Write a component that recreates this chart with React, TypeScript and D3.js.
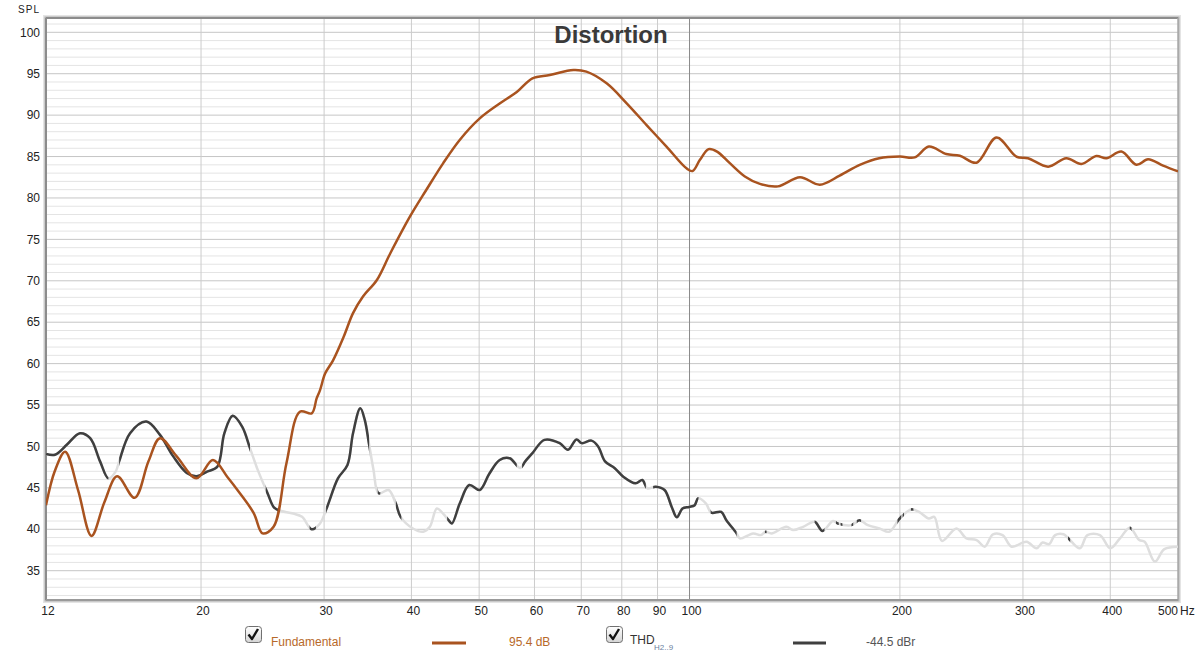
import React from "react";
import * as d3 from "d3";

const fundFreq = [12, 12.35, 12.78, 13.34, 13.94, 14.55, 15.17, 16.07, 16.82, 17.47, 18.46, 19.7, 20.8, 21.8, 22.73, 23.8, 24.5, 25.4, 26.5, 27.7, 28.8, 29.27, 29.6, 30.1, 30.9, 32.0, 33.0, 34.1, 35.7, 37.3, 39.8, 42.0, 44.4, 46.9, 50.1, 53.5, 56.6, 59.6, 63.1, 68.2, 71.2, 76.1, 81.3, 86.8, 92.7, 99.0, 101, 103.5, 106.5, 109.5, 114.2, 120, 126.1, 133.8, 143.9, 153.6, 164, 175.2, 186.8, 200, 210, 220, 233, 243.7, 257.5, 275, 293.6, 305, 326, 346, 363.7, 382, 395, 415, 436, 453, 476, 500];
const fundDb = [42.9, 47.0, 49.37, 44.7, 39.2, 43.3, 46.4, 43.8, 48.2, 51.0, 48.8, 46.15, 48.36, 46.35, 44.35, 41.93, 39.5, 40.3, 47.97, 54.2, 54.0, 55.8, 56.8, 58.8, 60.4, 63.25, 66.1, 68.1, 70.1, 73.3, 77.74, 80.96, 84.18, 87.0, 89.6, 91.4, 92.8, 94.45, 94.84, 95.45, 95.25, 93.84, 91.43, 88.8, 86.2, 83.58, 83.25, 84.6, 85.9, 85.6, 84.2, 82.6, 81.7, 81.4, 82.5, 81.6, 82.7, 84.0, 84.8, 85.0, 84.9, 86.2, 85.3, 85.1, 84.26, 87.3, 84.98, 84.8, 83.78, 84.8, 84.1, 85.07, 84.8, 85.6, 84.0, 84.67, 83.9, 83.2];

const thdFreq = [12, 12.36, 12.85, 13.42, 13.88, 14.34, 14.74, 15.1, 15.27, 15.83, 16.7, 17.47, 18.25, 19.08, 19.7, 20.4, 21.1, 21.6, 22.2, 22.9, 23.5, 24.1, 24.9, 25.4, 25.8, 27.1, 27.9, 28.8, 29.6, 30.3, 31.4, 32.4, 33.0, 33.8, 34.3, 34.8, 35.3, 35.9, 37.1, 38.0, 38.6, 40.2, 41.6, 42.5, 43.5, 44.4, 45.2, 45.7, 46.9, 48.4, 50.1, 51.7, 53.5, 55.3, 57.2, 58.2, 59.6, 62.0, 65.2, 67.0, 68.9, 70.1, 72.4, 74.0, 75.7, 78.1, 80.4, 83.7, 85.6, 87.0, 89.5, 92.1, 94.3, 95.9, 97.7, 99.9, 101.7, 102.9, 105.6, 107.4, 111, 112.9, 116.8, 118, 123.3, 126.5, 128.5, 131, 137.6, 140.6, 145.4, 151, 155, 160.4, 163, 170.5, 175, 180, 187, 193, 199, 202, 207.6, 213, 220, 224, 229.7, 241, 249, 257.5, 264.5, 271.8, 280.5, 289, 303.5, 313.8, 320, 327, 333.5, 343, 348.5, 361.8, 371, 386.6, 400, 413, 426.5, 440, 448, 463.3, 478, 500];
const thdDb = [49.1, 49.0, 50.2, 51.6, 51.0, 48.2, 46.15, 47.0, 48.2, 51.6, 53.0, 51.4, 48.8, 46.8, 46.4, 46.95, 47.55, 51.6, 53.7, 52.4, 49.8, 47.2, 44.35, 42.7, 42.3, 41.9, 41.5, 40.0, 40.7, 42.7, 46.15, 47.76, 51.6, 54.6, 53.2, 50.2, 47.2, 44.35, 44.74, 43.1, 41.5, 40.1, 39.7, 40.3, 42.5, 41.9, 41.1, 40.7, 43.1, 45.35, 44.74, 46.7, 48.36, 48.57, 47.4, 48.2, 49.2, 50.8, 50.4, 49.6, 50.85, 50.4, 50.7, 50.0, 48.2, 47.4, 46.35, 45.55, 45.95, 44.95, 45.14, 44.74, 42.7, 41.45, 42.5, 42.7, 42.9, 43.74, 43.1, 42.0, 42.1, 41.1, 39.5, 38.9, 39.5, 39.3, 39.7, 39.5, 40.3, 39.9, 40.3, 40.9, 39.8, 41.0, 40.7, 40.5, 41.1, 40.5, 40.1, 39.7, 41.1, 41.7, 42.4, 42.1, 41.3, 41.5, 38.6, 40.1, 38.9, 38.7, 37.9, 39.4, 39.3, 37.9, 38.5, 37.7, 38.4, 38.2, 39.3, 39.4, 38.9, 37.7, 39.3, 39.3, 37.7, 38.9, 40.2, 38.7, 38.5, 36.1, 37.6, 37.9];

// frequency ranges where the THD trace is drawn dark (elsewhere faint)
const thdDarkFrom = [12, 15.27, 24.75, 28.6, 30.2, 35.8, 38.0, 45.0, 57.6, 88.7, 107.2, 128.2, 151, 162, 164.5, 170.5, 173.5, 198.4, 201.8, 207.4, 348, 426.5];
const thdDarkTo = [14.74, 23.5, 25.8, 29.2, 34.8, 36.1, 38.7, 56.6, 86.6, 103, 116.8, 128.9, 156, 163.5, 165.5, 171.5, 176, 200.9, 202.7, 209.1, 350.5, 429];

const xTicks = [12, 20, 30, 40, 50, 60, 70, 80, 90, 100, 200, 300, 400, 500];
const xGrid = [20, 30, 40, 50, 60, 70, 80, 90, 100, 200, 300, 400];
const yTicks = [35, 40, 45, 50, 55, 60, 65, 70, 75, 80, 85, 90, 95, 100];

const title = "Distortion";
const fundLabel = "Fundamental";
const fundValue = "95.4 dB";
const thdValue = "-44.5 dBr";

const L = 46, R = 1178, T = 18, B = 600;

export default function App() {
  const x = d3.scaleLog().domain([12, 500]).range([L, R]);
  const y = d3.scaleLinear().domain([35, 100]).range([570.7, 32.3]);

  const minor: number[] = d3.range(32, 102);

  const line = d3
    .line<[number, number]>()
    .x((d) => x(d[0]))
    .y((d) => y(d[1]))
    .curve(d3.curveCatmullRom.alpha(0.5));

  const fundPath = line(fundFreq.map((f, i) => [f, fundDb[i]] as [number, number])) || "";
  const thdPath = line(thdFreq.map((f, i) => [f, thdDb[i]] as [number, number])) || "";

  const brown = "#a9531f";

  const checkbox = (cx: number, cy: number) => (
    <g transform={`translate(${cx},${cy})`}>
      <defs>
        <linearGradient id={`cbg${cx}`} x1="0" y1="0" x2="0" y2="1">
          <stop offset="0" stopColor="#ffffff" />
          <stop offset="1" stopColor="#d4d4d4" />
        </linearGradient>
      </defs>
      <rect x={0.5} y={0.5} width={16} height={16} rx={3} fill={`url(#cbg${cx})`} stroke="#707070" />
      <path d="M3.5,8.5 L7,13 L13,3" fill="none" stroke="#111" strokeWidth={2.4} strokeLinejoin="round" />
    </g>
  );

  return (
    <svg
      width={1200}
      height={660}
      style={{ position: "absolute", left: 0, top: 0, background: "#fff" }}
      fontFamily="'Liberation Sans', Arial, sans-serif"
    >
      <defs>
        <clipPath id="plot">
          <rect x={L} y={T} width={R - L} height={B - T} />
        </clipPath>
        <clipPath id="dark">
          {thdDarkFrom.map((f, i) => (
            <rect key={i} x={x(f)} y={T} width={x(thdDarkTo[i]) - x(f)} height={B - T} />
          ))}
        </clipPath>
      </defs>

      {/* frame shadow */}
      <rect x={L - 3} y={T - 3} width={R - L + 6} height={B - T + 6} fill="#e4e4e4" />
      <rect x={L - 1.5} y={T - 1.5} width={R - L + 3} height={B - T + 3} fill="#b0b0b0" />
      <rect x={L} y={T} width={R - L} height={B - T} fill="#fff" />

      {/* horizontal grid */}
      {minor.map((v) => (
        <line
          key={v}
          x1={L}
          x2={R}
          y1={y(v)}
          y2={y(v)}
          stroke={v % 5 === 0 ? "#c6c6c6" : "#e4e4e4"}
          strokeWidth={1}
        />
      ))}
      {/* vertical grid */}
      {xGrid.map((f) => (
        <line
          key={f}
          x1={x(f)}
          x2={x(f)}
          y1={T}
          y2={B}
          stroke={f === 100 ? "#8a8a8a" : "#cccccc"}
          strokeWidth={1}
        />
      ))}

      {/* frame lines */}
      <line x1={L} x2={R} y1={T} y2={T} stroke="#8c8c8c" strokeWidth={2} />
      <line x1={L} x2={L} y1={T} y2={B} stroke="#8c8c8c" strokeWidth={2} />
      <line x1={R} x2={R} y1={T} y2={B} stroke="#a8a8a8" strokeWidth={1.5} />
      <line x1={L} x2={R} y1={B} y2={B} stroke="#9a9a9a" strokeWidth={2} />

      <g clipPath="url(#plot)">
        <path d={thdPath} fill="none" stroke="#dedede" strokeWidth={2.5} strokeLinejoin="round" />
        <g clipPath="url(#dark)">
          <path d={thdPath} fill="none" stroke="#3f3f3f" strokeWidth={2.5} strokeLinejoin="round" />
        </g>
        <path d={fundPath} fill="none" stroke={brown} strokeWidth={2.5} strokeLinejoin="round" />
      </g>

      {/* title */}
      <text x={611} y={43} textAnchor="middle" fontSize={24} fontWeight="bold" fill="#3a3a3a">
        {title}
      </text>

      {/* y axis labels */}
      <text x={40} y={13} textAnchor="end" fontSize={10} fill="#222" letterSpacing={1}>
        SPL
      </text>
      {yTicks.map((v) => (
        <text key={v} x={40} y={y(v)} dy="0.35em" textAnchor="end" fontSize={12} fill="#222">
          {v}
        </text>
      ))}

      {/* x axis labels */}
      {xTicks.map((f) =>
        f === 500 ? (
          <g key={f}>
            <text x={R} y={615} textAnchor="end" fontSize={12} fill="#222">
              {f}
            </text>
            <text x={R + 2} y={615} textAnchor="start" fontSize={12} fill="#222">
              Hz
            </text>
          </g>
        ) : (
          <text key={f} x={x(f) + 2} y={615} textAnchor="middle" fontSize={12} fill="#222">
            {f}
          </text>
        )
      )}

      {/* legend */}
      {checkbox(245, 626)}
      <text x={271} y={646} fontSize={12} fill="#b7692a">
        {fundLabel}
      </text>
      <line x1={432} x2={466} y1={643} y2={643} stroke={brown} strokeWidth={3} />
      <text x={509} y={646} fontSize={12} fill="#b7692a">
        {fundValue}
      </text>

      {checkbox(606, 626)}
      <text x={630} y={644} fontSize={12} fill="#333">
        THD
      </text>
      <text x={654} y={650} fontSize={8} fill="#6b7fa0">
        H2..9
      </text>
      <line x1={793} x2={826} y1={643} y2={643} stroke="#3f3f3f" strokeWidth={3} />
      <text x={866} y={646} fontSize={12} fill="#555">
        {thdValue}
      </text>
    </svg>
  );
}
